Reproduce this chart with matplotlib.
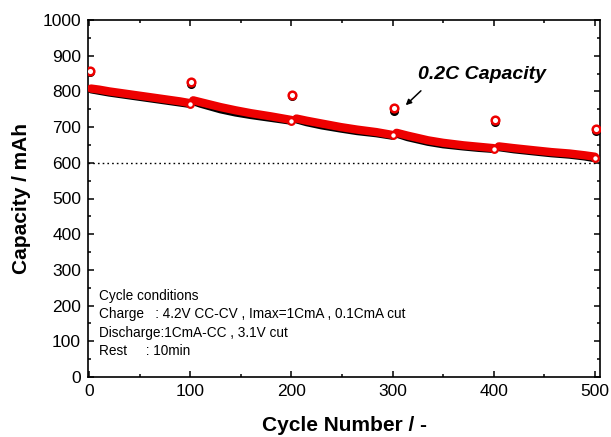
import matplotlib
matplotlib.use("Agg")
import matplotlib.pyplot as plt
from matplotlib.ticker import MultipleLocator

plt.rcParams['font.family'] = ['Liberation Sans', 'DejaVu Sans']

# 1C cycling capacity, read per segment (cycle, red series, black series)
seg_cycles = [
    [2, 10, 20, 30, 40, 50, 60, 70, 80, 90, 100],
    [103, 110, 120, 130, 145, 160, 180, 190, 200],
    [205, 215, 230, 249, 265, 284, 300],
    [304, 315, 335, 350, 370, 385, 400],
    [405, 420, 440, 457, 475, 490, 500],
]
seg_red = [
    [808, 805, 800, 796, 792, 788, 784, 780, 776, 772, 767],
    [775, 770, 763, 756, 747, 739, 730, 725, 720],
    [724, 718, 710, 700, 693, 686, 678],
    [684, 676, 663, 656, 649, 645, 641],
    [646, 641, 635, 630, 626, 621, 617],
]
seg_black = [
    [806, 802, 797, 793, 789, 785, 781, 777, 773, 769, 765],
    [773, 766, 758, 750, 741, 734, 726, 722, 718],
    [722, 714, 705, 696, 689, 683, 676],
    [682, 672, 659, 652, 646, 642, 639],
    [644, 638, 632, 627, 623, 618, 613],
]
end_cycles = [100, 200, 300, 400, 500]
end_values = [764, 718, 677, 638, 614]

# 0.2C capacity check points
c02_cycles = [1, 101, 201, 301, 401, 501]
c02_red = [857, 825, 791, 754, 719, 695]
c02_black = [855, 820, 786, 746, 714, 690]

ref_level = 600

fig = plt.figure(figsize=(6.11, 4.37), dpi=100)
ax = fig.add_axes([88/611, 1-377/437, 512/611, 357/437])

ax.axhline(ref_level, color='black', ls=(0, (1.2, 2.2)), lw=1.0, zorder=1)

for cx, rv, bv in zip(seg_cycles, seg_red, seg_black):
    ax.plot(cx, bv, color='black', lw=6, solid_capstyle='round', zorder=2)
    ax.plot(cx, rv, color='#ee0000', lw=6, solid_capstyle='round', zorder=3)

ax.plot(end_cycles, end_values, ls='none', marker='o', ms=4.8, mfc='white',
        mec='#ee0000', mew=1.6, zorder=4)

ax.plot(c02_cycles, c02_black, ls='none', marker='o', ms=5.5, mfc='black',
        mec='black', zorder=4)
ax.plot(c02_cycles, c02_red, ls='none', marker='o', ms=5.5, mfc='white',
        mec='#ee0000', mew=1.8, zorder=5)

ax.set_xlim(-1, 505)
ax.set_ylim(0, 1000)
ax.xaxis.set_major_locator(MultipleLocator(100))
ax.xaxis.set_minor_locator(MultipleLocator(50))
ax.yaxis.set_major_locator(MultipleLocator(100))
ax.yaxis.set_minor_locator(MultipleLocator(50))
ax.tick_params(which='both', direction='in', top=True, right=True, width=1.1)
ax.tick_params(which='major', length=4, labelsize=12.5, pad=5)
ax.tick_params(which='minor', length=2.5)
for s in ax.spines.values():
    s.set_linewidth(1.2)

ax.set_xlabel('Cycle Number / -', fontsize=15, fontweight='bold', labelpad=12)
ax.set_ylabel('Capacity / mAh', fontsize=15, fontweight='bold', labelpad=8)

ax.annotate('', xy=(311, 756), xytext=(330, 807),
            arrowprops=dict(arrowstyle='-|>', color='black', lw=1.1,
                            mutation_scale=8))
ax.text(388, 846, '0.2C Capacity', fontsize=14, fontweight='bold',
        fontstyle='italic', ha='center', va='center')

cond = ['Cycle conditions',
        'Charge   : 4.2V CC-CV , Imax=1CmA , 0.1CmA cut',
        'Discharge:1CmA-CC , 3.1V cut',
        'Rest     : 10min']
for i, line in enumerate(cond):
    ax.text(10, 227 - i * 51.5, line, fontsize=9.8, ha='left', va='center')

fig.savefig('out.png', dpi=100)
